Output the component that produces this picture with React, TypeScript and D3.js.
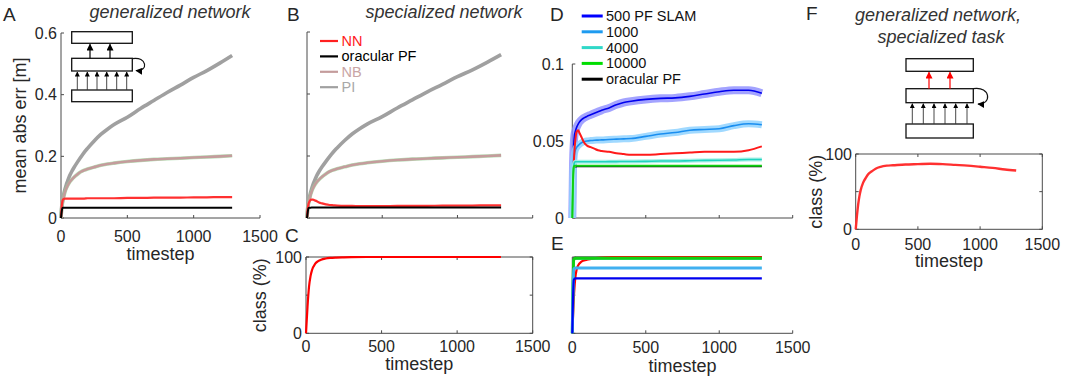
import React, { useEffect, useRef } from 'react';
import * as d3 from 'd3';

const W = 1067;
const H = 379;
const FONT = '"Liberation Sans", Arial, Helvetica, sans-serif';
const TXT = '#262626';
const AX = '#4a4a4a';

// timesteps for the error curves (A, B, D)
const tErr = [0, 5, 10, 15, 20, 30, 40, 50, 65, 80, 100, 125, 150, 175, 200, 250, 300, 350, 400, 500, 600, 700, 800, 900, 1000, 1100, 1200, 1290];
const piErr = [0, 0.035, 0.05, 0.062, 0.075, 0.093, 0.108, 0.12, 0.137, 0.15, 0.165, 0.182, 0.198, 0.213, 0.226, 0.25, 0.271, 0.288, 0.303, 0.327, 0.355, 0.381, 0.407, 0.431, 0.456, 0.478, 0.503, 0.527];
const nbErr = [0, 0.03, 0.045, 0.058, 0.068, 0.084, 0.096, 0.105, 0.116, 0.124, 0.133, 0.142, 0.15, 0.155, 0.159, 0.165, 0.171, 0.175, 0.178, 0.183, 0.187, 0.19, 0.192, 0.194, 0.196, 0.198, 0.2, 0.202];
const nnErrA = [0, 0.035, 0.053, 0.06, 0.062, 0.063, 0.063, 0.063, 0.063, 0.063, 0.063, 0.063, 0.063, 0.063, 0.064, 0.064, 0.064, 0.064, 0.064, 0.065, 0.065, 0.066, 0.066, 0.066, 0.067, 0.067, 0.068, 0.068];
const nnErrB = [0, 0.03, 0.045, 0.052, 0.056, 0.059, 0.059, 0.057, 0.054, 0.05, 0.047, 0.044, 0.042, 0.041, 0.04, 0.039, 0.039, 0.038, 0.038, 0.038, 0.039, 0.039, 0.039, 0.04, 0.04, 0.04, 0.041, 0.041];
const oracleErr = [0, 0.02, 0.032, 0.033, 0.033, 0.0335, 0.0335, 0.0335, 0.0335, 0.0335, 0.0335, 0.0335, 0.0335, 0.0335, 0.0335, 0.0335, 0.0335, 0.0335, 0.0335, 0.0335, 0.0335, 0.0335, 0.0335, 0.0335, 0.0335, 0.0335, 0.0335, 0.0335];

const slam500 = [0, 0.035, 0.048, 0.054, 0.056, 0.059, 0.061, 0.0625, 0.064, 0.065, 0.066, 0.067, 0.068, 0.069, 0.07, 0.0715, 0.0735, 0.075, 0.0758, 0.077, 0.0777, 0.078, 0.079, 0.0805, 0.082, 0.083, 0.083, 0.081];
const slam1000 = [0, 0.03, 0.038, 0.042, 0.044, 0.046, 0.047, 0.048, 0.049, 0.0495, 0.05, 0.0503, 0.0505, 0.0506, 0.0507, 0.051, 0.0512, 0.0514, 0.0516, 0.053, 0.0545, 0.0555, 0.057, 0.0575, 0.058, 0.06, 0.0612, 0.0605];
const slam4000 = [0, 0.025, 0.034, 0.036, 0.0365, 0.0365, 0.0365, 0.0365, 0.0365, 0.0365, 0.0365, 0.0365, 0.0365, 0.0365, 0.0365, 0.0366, 0.0366, 0.0367, 0.0367, 0.0368, 0.037, 0.037, 0.0372, 0.0374, 0.0375, 0.0377, 0.038, 0.038];
const slam10000 = [0, 0.025, 0.033, 0.034, 0.034, 0.034, 0.034, 0.034, 0.034, 0.034, 0.034, 0.034, 0.034, 0.034, 0.034, 0.034, 0.034, 0.034, 0.034, 0.034, 0.034, 0.034, 0.034, 0.034, 0.034, 0.034, 0.034, 0.034];
const nnErrD = [0, 0.02, 0.035, 0.044, 0.05, 0.056, 0.057, 0.055, 0.052, 0.049, 0.047, 0.046, 0.045, 0.044, 0.0435, 0.043, 0.042, 0.0415, 0.041, 0.041, 0.0415, 0.042, 0.0425, 0.043, 0.043, 0.043, 0.044, 0.0465];

// timesteps for the classification curves (C, E, F)
const tClass = [0, 10, 20, 30, 40, 60, 80, 100, 130, 160, 200, 250, 300, 400, 500, 600, 700, 800, 900, 1000, 1100, 1200, 1290];
const classC = [0, 35, 61, 75, 83, 91, 94.5, 96.5, 98, 98.8, 99.3, 99.6, 99.8, 100, 100, 100, 100, 100, 100, 100, 100, 100, 100];
const classEnn = [0, 45, 72, 84, 89, 93.5, 95.5, 96.5, 97.5, 98.5, 99.3, 99.7, 100, 100, 100, 100, 100, 100, 100, 100, 100, 100, 100];
const classE500 = [0, 70, 72, 72, 72, 72, 72, 72, 72, 72, 72, 72, 72, 72, 72, 72, 72, 72, 72, 72, 72, 72, 72];
const classE1000 = [0, 84, 85.5, 85.5, 85.5, 85.5, 85.5, 85.5, 85.5, 85.5, 85.5, 85.5, 85.5, 85.5, 85.5, 85.5, 85.5, 85.5, 85.5, 85.5, 85.5, 85.5, 85.5];
const classE4000 = [0, 96, 98, 98, 98, 98, 98, 98, 98, 98, 98, 98, 98, 98, 98, 98, 98, 98, 98, 98, 98, 98, 98];
const classE10000 = [0, 96.5, 98.3, 98.3, 98.3, 98.3, 98.3, 98.3, 98.3, 98.3, 98.3, 98.3, 98.3, 98.3, 98.3, 98.3, 98.3, 98.3, 98.3, 98.3, 98.3, 98.3, 98.3];
const classEoracle = [0, 98, 99.5, 99.5, 99.5, 99.5, 99.5, 99.5, 99.5, 99.5, 99.5, 99.5, 99.5, 99.5, 99.5, 99.5, 99.5, 99.5, 99.5, 99.5, 99.5, 99.5, 99.5];
const classF = [0, 18, 33, 44, 52, 62, 68, 73, 77, 80.5, 83, 84.5, 85, 86, 86.5, 87, 86.5, 85.5, 84.5, 83, 81.5, 79.5, 78];

const xTickVals = [0, 500, 1000, 1500];
const legendB = ['NN', 'oracular PF', 'NB', 'PI'];
const legendBColors = ['#ff2020', '#000000', '#c49c9c', '#a0a0a0'];
const legendBText = ['#ff2020', '#000000', '#c9a5a5', '#a8a8a8'];
const legendD = ['500 PF SLAM', '1000', '4000', '10000', 'oracular PF'];
const legendDColors = ['#0000ff', '#1e9bf0', '#30d8c8', '#00dd00', '#000000'];

type Cfg = {
  x0: number; x1: number; yTop: number; yBottom: number;
  yDomain: [number, number]; yTicks: number[];
  yFmt?: (v: number) => string; yLabelRight?: number;
  xLabelY?: number; xTitleY?: number;
  yTitle?: string; yTitleX?: number; box: boolean;
};

function drawPanel(svg: any, c: Cfg) {
  const x = d3.scaleLinear().domain([0, 1500]).range([c.x0, c.x1]);
  const y = d3.scaleLinear().domain(c.yDomain).range([c.yBottom, c.yTop]);
  const g = svg.append('g');
  const tk = 3;
  const ln = (a: number, b: number, cc: number, d: number) =>
    g.append('line').attr('x1', a).attr('y1', b).attr('x2', cc).attr('y2', d)
      .attr('stroke', AX).attr('stroke-width', 1);

  ln(c.x0, c.yBottom, c.x1, c.yBottom);
  ln(c.x0, c.yTop, c.x0, c.yBottom);
  if (c.box) {
    ln(c.x0, c.yTop, c.x1, c.yTop);
    ln(c.x1, c.yTop, c.x1, c.yBottom);
  }
  xTickVals.forEach(t => {
    ln(x(t), c.yBottom, x(t), c.yBottom - tk);
    if (c.box) ln(x(t), c.yTop, x(t), c.yTop + tk);
    if (c.xLabelY) {
      g.append('text').attr('x', x(t)).attr('y', c.xLabelY)
        .attr('text-anchor', 'middle').attr('font-size', 16).attr('fill', TXT)
        .attr('font-family', FONT).text(String(t));
    }
  });
  c.yTicks.forEach(v => {
    ln(c.x0, y(v), c.x0 + tk, y(v));
    if (c.box) ln(c.x1, y(v), c.x1 - tk, y(v));
    if (c.yFmt && c.yLabelRight) {
      g.append('text').attr('x', c.yLabelRight).attr('y', y(v)).attr('dy', '0.35em')
        .attr('text-anchor', 'end').attr('font-size', 16).attr('fill', TXT)
        .attr('font-family', FONT).text(c.yFmt(v));
    }
  });
  if (c.xTitleY) {
    g.append('text').attr('x', (c.x0 + c.x1) / 2).attr('y', c.xTitleY)
      .attr('text-anchor', 'middle').attr('font-size', 18).attr('fill', TXT)
      .attr('font-family', FONT).text('timestep');
  }
  if (c.yTitle && c.yTitleX) {
    g.append('text')
      .attr('transform', `translate(${c.yTitleX},${(c.yTop + c.yBottom) / 2}) rotate(-90)`)
      .attr('text-anchor', 'middle').attr('dy', '0.35em').attr('font-size', 18)
      .attr('fill', TXT).attr('font-family', FONT).text(c.yTitle);
  }
  return { x, y, g };
}

function drawSeries(g: any, x: any, y: any, ts: number[], vals: number[], color: string, width: number, opacity = 1) {
  const line = d3.line<number>().x((_, i) => x(ts[i])).y(d => y(d)).curve(d3.curveMonotoneX);
  g.append('path').datum(vals).attr('d', line).attr('fill', 'none')
    .attr('stroke', color).attr('stroke-width', width).attr('stroke-opacity', opacity)
    .attr('stroke-linejoin', 'round').attr('stroke-linecap', 'butt');
}

function drawNet(svg: any, ox: number, w: number, boxes: number[][], upX: number[], upColor: string, inX: number[], loop: string) {
  const g = svg.append('g');
  boxes.forEach(([y0, h]) => {
    g.append('rect').attr('x', ox).attr('y', y0).attr('width', w).attr('height', h)
      .attr('fill', 'none').attr('stroke', '#111').attr('stroke-width', 1.3);
  });
  const [top, mid, bot] = boxes;
  upX.forEach(dx => {
    g.append('line').attr('x1', ox + dx).attr('x2', ox + dx)
      .attr('y1', mid[0]).attr('y2', top[0] + top[1] + 1)
      .attr('stroke', upColor).attr('stroke-width', 1.2)
      .attr('marker-end', upColor === '#000' ? 'url(#arrBig)' : 'url(#arrRed)');
  });
  inX.forEach(dx => {
    g.append('line').attr('x1', ox + dx).attr('x2', ox + dx)
      .attr('y1', bot[0]).attr('y2', mid[0] + mid[1] + 1)
      .attr('stroke', '#333').attr('stroke-width', 0.9).attr('marker-end', 'url(#arrSmall)');
  });
  g.append('path').attr('d', loop).attr('fill', 'none').attr('stroke', '#111')
    .attr('stroke-width', 1.2).attr('marker-end', 'url(#arrBig)');
}

function label(svg: any, x: number, y: number, s: string, size: number, opts: any = {}) {
  const t = svg.append('text').attr('x', x).attr('y', y).attr('font-size', size)
    .attr('font-family', FONT).attr('fill', opts.fill || TXT)
    .attr('text-anchor', opts.anchor || 'start').text(s);
  if (opts.italic) t.attr('font-style', 'italic');
  if (opts.dy) t.attr('dy', opts.dy);
  return t;
}

export default function App() {
  const ref = useRef<SVGSVGElement>(null);

  useEffect(() => {
    const svg = d3.select(ref.current);
    svg.selectAll('*').remove();

    const defs = svg.append('defs');
    const mk = (id: string, color: string, size: number) => {
      defs.append('marker').attr('id', id).attr('viewBox', '0 0 10 10')
        .attr('refX', 9).attr('refY', 5).attr('markerWidth', size).attr('markerHeight', size)
        .attr('markerUnits', 'userSpaceOnUse').attr('orient', 'auto')
        .append('path').attr('d', 'M0,0 L10,5 L0,10 z').attr('fill', color);
    };
    mk('arrBig', '#000', 7);
    mk('arrRed', '#f00', 7);
    mk('arrSmall', '#000', 5);

    // Panel letters
    label(svg, 3, 21, 'A', 19);
    label(svg, 287, 21, 'B', 19);
    label(svg, 285, 242, 'C', 19);
    label(svg, 550, 21, 'D', 19);
    label(svg, 551, 250, 'E', 19);
    label(svg, 806, 20, 'F', 19);

    // Titles
    label(svg, 170, 18, 'generalized network', 18, { italic: true, anchor: 'middle', fill: '#333' });
    label(svg, 444, 18, 'specialized network', 18, { italic: true, anchor: 'middle', fill: '#333' });
    label(svg, 938, 21, 'generalized network,', 18, { italic: true, anchor: 'middle', fill: '#333' });
    label(svg, 941, 43, 'specialized task', 18, { italic: true, anchor: 'middle', fill: '#333' });

    // A
    const errFmt = (v: number) => String(v);
    const A = drawPanel(svg, {
      x0: 61, x1: 260, yTop: 33, yBottom: 218, yDomain: [0, 0.6], yTicks: [0, 0.2, 0.4, 0.6],
      yFmt: errFmt, yLabelRight: 57, xLabelY: 242, xTitleY: 260,
      yTitle: 'mean abs err [m]', yTitleX: 20, box: false,
    });
    drawSeries(A.g, A.x, A.y, tErr, piErr, '#a0a0a0', 3.6);
    drawSeries(A.g, A.x, A.y, tErr, nbErr, '#9ad49a', 3.6, 0.7);
    drawSeries(A.g, A.x, A.y, tErr, nbErr, '#c49c9c', 2.6);
    drawSeries(A.g, A.x, A.y, tErr, nnErrA, '#ff3030', 2.2);
    drawSeries(A.g, A.x, A.y, tErr, oracleErr, '#000', 2);

    drawNet(svg, 71.7, 60.6, [[31.7, 11.6], [58.3, 12.7], [90, 11.7]], [18.3, 38.3], '#000',
      [5.6, 15.6, 25.3, 35, 45, 55], 'M132.3,58.6 C147,56 149,72 136,70.5');

    // B
    const B = drawPanel(svg, {
      x0: 307, x1: 532.7, yTop: 32, yBottom: 218, yDomain: [0, 0.6], yTicks: [0, 0.2, 0.4, 0.6], box: false,
    });
    drawSeries(B.g, B.x, B.y, tErr, piErr, '#a0a0a0', 3.6);
    drawSeries(B.g, B.x, B.y, tErr, nbErr, '#9ad49a', 3.6, 0.7);
    drawSeries(B.g, B.x, B.y, tErr, nbErr, '#c49c9c', 2.6);
    drawSeries(B.g, B.x, B.y, tErr, nnErrB, '#ff3030', 2.2);
    drawSeries(B.g, B.x, B.y, tErr, oracleErr, '#000', 2);
    legendB.forEach((name, i) => {
      const yy = 41 + i * 15.4;
      svg.append('line').attr('x1', 320).attr('x2', 338).attr('y1', yy).attr('y2', yy)
        .attr('stroke', legendBColors[i]).attr('stroke-width', 2.2);
      label(svg, 341.5, yy, name, 14.5, { fill: legendBText[i], dy: '0.35em' });
    });

    // C
    const classFmt = (v: number) => (v === 50 ? '' : String(v));
    const C = drawPanel(svg, {
      x0: 306, x1: 532.7, yTop: 257, yBottom: 333.3, yDomain: [0, 100], yTicks: [0, 50, 100],
      yFmt: classFmt, yLabelRight: 302, xLabelY: 352, xTitleY: 370,
      yTitle: 'class (%)', yTitleX: 259.5, box: true,
    });
    drawSeries(C.g, C.x, C.y, tClass, classC, '#ff0000', 2.2);

    // D
    const D = drawPanel(svg, {
      x0: 572.3, x1: 792.7, yTop: 64, yBottom: 218, yDomain: [0, 0.1], yTicks: [0, 0.05, 0.1],
      yFmt: errFmt, yLabelRight: 564, box: false,
    });
    drawSeries(D.g, D.x, D.y, tErr, slam500, '#8c8cff', 8, 0.8);
    drawSeries(D.g, D.x, D.y, tErr, slam500, '#0000ee', 1.6);
    drawSeries(D.g, D.x, D.y, tErr, slam1000, '#8fd2ff', 7, 0.85);
    drawSeries(D.g, D.x, D.y, tErr, slam1000, '#1a8ef0', 1.6);
    drawSeries(D.g, D.x, D.y, tErr, nnErrD, '#ff1a1a', 2);
    drawSeries(D.g, D.x, D.y, tErr, oracleErr, '#000', 1.5);
    drawSeries(D.g, D.x, D.y, tErr, slam4000, '#9ef0e4', 4, 0.9);
    drawSeries(D.g, D.x, D.y, tErr, slam4000, '#20d4c0', 1.6);
    drawSeries(D.g, D.x, D.y, tErr, slam10000, '#10d010', 2);
    legendD.forEach((name, i) => {
      const yy = 16 + i * 15.8;
      svg.append('line').attr('x1', 581.7).attr('x2', 602.7).attr('y1', yy).attr('y2', yy)
        .attr('stroke', legendDColors[i]).attr('stroke-width', 3);
      label(svg, 606, yy, name, 14.5, { fill: '#111', dy: '0.35em' });
    });

    // E
    const E = drawPanel(svg, {
      x0: 572.3, x1: 792.7, yTop: 257, yBottom: 333.3, yDomain: [0, 100], yTicks: [0, 50, 100],
      xLabelY: 353, xTitleY: 372, box: false,
    });
    drawSeries(E.g, E.x, E.y, tClass, classEoracle, '#000', 2);
    drawSeries(E.g, E.x, E.y, tClass, classEnn, '#ff0000', 2.2);
    drawSeries(E.g, E.x, E.y, tClass, classE4000, '#30d8c8', 2.5);
    drawSeries(E.g, E.x, E.y, tClass, classE10000, '#10d010', 3);
    drawSeries(E.g, E.x, E.y, tClass, classE1000, '#40b0f0', 3);
    drawSeries(E.g, E.x, E.y, tClass, classE500, '#0000f0', 2.2);

    // F
    const F = drawPanel(svg, {
      x0: 855.7, x1: 1042.3, yTop: 154, yBottom: 229.3, yDomain: [0, 100], yTicks: [0, 50, 100],
      yFmt: classFmt, yLabelRight: 852, xLabelY: 250, xTitleY: 267,
      yTitle: 'class (%)', yTitleX: 815.5, box: true,
    });
    drawSeries(F.g, F.x, F.y, tClass, classF, '#ff3030', 2.4);

    drawNet(svg, 906, 67.3, [[58.7, 12.6], [88.7, 14], [124, 14]], [23, 44], '#f00',
      [6.3, 17.3, 28, 39, 49.7, 61], 'M973.3,88.7 C991,86 992,105 978,104');
  }, []);

  return (
    <svg ref={ref} width={W} height={H}
      style={{ position: 'absolute', left: 0, top: 0, background: '#fff' }} />
  );
}
